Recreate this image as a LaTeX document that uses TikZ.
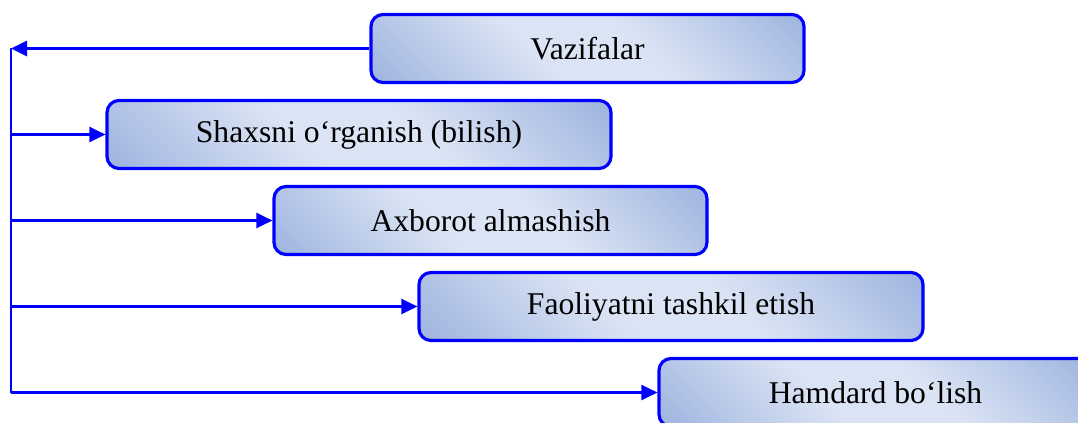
\documentclass[tikz,border=0pt]{standalone}
\usepackage{fontspec}
\setmainfont{Liberation Serif}
\usetikzlibrary{shapes, arrows, arrows.meta, calc}
\definecolor{moviy}{RGB}{0,0,255}
\definecolor{och}{RGB}{219,228,244}
\definecolor{toq}{RGB}{143,168,218}
\pgfdeclarehorizontalshading{boxfade}{100bp}{color(0bp)=(toq); color(8bp)=(toq); color(42bp)=(och); color(58bp)=(och); color(92bp)=(toq); color(100bp)=(toq)}
\tikzstyle{vazifa} = [
    rectangle,
    rounded corners = 0.24cm,
    minimum width = 8.66cm,
    minimum height = 1.36cm,
    text centered,
    draw = moviy,
    line width = 1.8pt,
    shading = boxfade,
    shading angle = 45,
    font = \fontsize{18}{22}\selectfont,
]
\tikzstyle{keng} = [vazifa, minimum width = 10.08cm]

\begin{document}
\begin{tikzpicture} [node distance = 1.72cm, >={Triangle[length = 0.32cm, width = 0.3cm]}]
    \useasboundingbox (0, 0) rectangle (21.56, -8.46);
    \clip (0, 0) rectangle (21.56, -8.46);

    \node (Vazifalar) [vazifa] at (11.75, -0.97) {Vazifalar};
    \node (Shaxsni) [keng, below of = Vazifalar, xshift = -4.57cm] {Shaxsni o‘rganish (bilish)};
    \node (Axborot) [vazifa, below of = Shaxsni, xshift = 2.63cm] {Axborot almashish};
    \node (Faoliyat) [keng, below of = Axborot, xshift = 3.61cm] {Faoliyatni tashkil etish};
    \node (Hamdard) [vazifa, below of = Faoliyat, xshift = 4.09cm] {Hamdard bo‘lish};

    \coordinate (Tepa) at (0.22, -0.97);
    \coordinate (Past) at (Tepa |- Hamdard);

    \draw[->, draw = moviy, fill = moviy, line width = 1.5pt] (Vazifalar) -- (Tepa);
    \draw[-, draw = moviy, line width = 1.5pt] (Tepa) -- (Past);
    \draw[->, draw = moviy, fill = moviy, line width = 1.5pt] (Tepa |- Shaxsni) -- (Shaxsni);
    \draw[->, draw = moviy, fill = moviy, line width = 1.5pt] (Tepa |- Axborot) -- (Axborot);
    \draw[->, draw = moviy, fill = moviy, line width = 1.5pt] (Tepa |- Faoliyat) -- (Faoliyat);
    \draw[->, draw = moviy, fill = moviy, line width = 1.5pt] (Past) -- (Hamdard);
\end{tikzpicture}
\end{document}
